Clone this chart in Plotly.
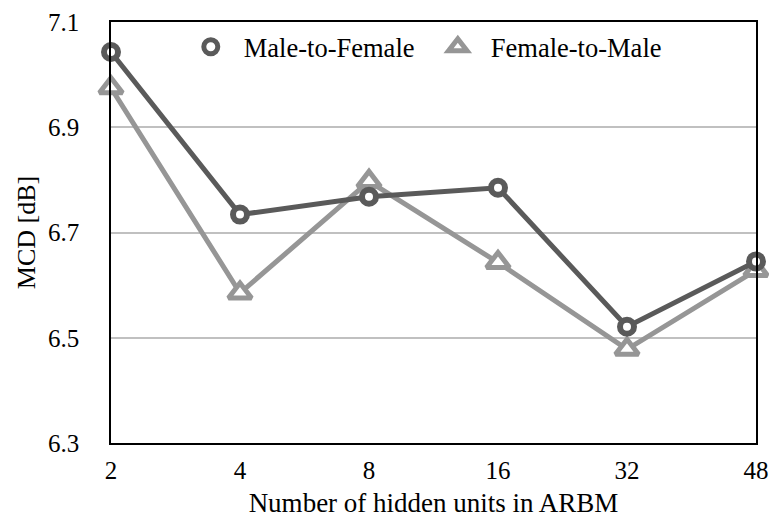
import plotly.graph_objects as go

categories = ["2", "4", "8", "16", "32", "48"]
male_to_female = [7.043, 6.734, 6.768, 6.785, 6.521, 6.645]
female_to_male = [6.975, 6.585, 6.797, 6.643, 6.478, 6.628]
y_ticks = [6.3, 6.5, 6.7, 6.9, 7.1]

FONT = "Liberation Serif, Times New Roman, serif"
DARK = "#5a5a5a"
LIGHT = "#969696"

fig = go.Figure()
series = [("Female-to-Male", female_to_male, LIGHT, "triangle-up", 20, 5),
          ("Male-to-Female", male_to_female, DARK, "circle", 14, 6)]
for name, vals, col, sym, size, lw in series:
    fig.add_trace(go.Scatter(
        x=categories, y=vals, name=name, mode="lines", showlegend=False,
        line=dict(color=col, width=5), cliponaxis=False, hoverinfo="skip",
    ))
    fig.add_trace(go.Scatter(
        x=categories, y=vals, name=name, mode="markers",
        marker=dict(symbol=sym, size=size, color="white",
                    line=dict(color=col, width=lw)),
        cliponaxis=False,
    ))

fig.update_layout(
    width=769, height=525,
    margin=dict(l=111, r=13, t=22, b=82),
    paper_bgcolor="white", plot_bgcolor="white",
    font=dict(family=FONT, size=25, color="black"),
    showlegend=True,
    legend=dict(orientation="h", x=0.4865, xanchor="center", y=0.9406, yanchor="middle",
                traceorder="reversed", font=dict(family=FONT, size=26.5),
                bgcolor="rgba(0,0,0,0)", itemwidth=56, entrywidth=176, entrywidthmode="pixels"),
    xaxis=dict(type="category", range=[0, 5], showgrid=False, automargin=False,
               showline=True, linecolor="black", linewidth=1.5, mirror=True,
               ticks="", ticklabelstandoff=4, tickfont=dict(size=25),
               title=dict(text="Number of hidden units in ARBM", font=dict(size=27), standoff=10)),
    yaxis=dict(range=[6.3, 7.1], tickvals=y_ticks, ticktext=[f"{v:.1f}" for v in y_ticks],
               showgrid=True, gridcolor="#c0c0c0", gridwidth=1.5, automargin=False,
               showline=True, linecolor="black", linewidth=1.5, mirror=True,
               ticks="", ticklabelstandoff=25, zeroline=False, tickfont=dict(size=25),
               title=dict(text="MCD [dB]", font=dict(size=26), standoff=5)),
)

fig.write_html("out.html")
